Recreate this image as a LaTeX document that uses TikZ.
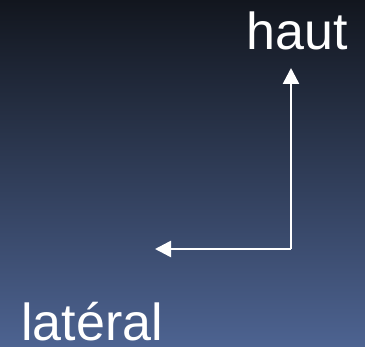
\documentclass[tikz,border=0pt]{standalone}
\usepackage{fontspec}
\setmainfont{Liberation Sans}
\usetikzlibrary{arrows.meta}
\definecolor{bgtop}{HTML}{12161E}
\definecolor{bgbottom}{HTML}{4D6391}

\begin{document}
\begin{tikzpicture}[x=1pt,y=-1pt]
    \shade[top color=bgtop,bottom color=bgbottom] (0,0) rectangle (365,347);
    \useasboundingbox (0,0) rectangle (365,347);
    \node[white,inner sep=0pt,font=\fontsize{52}{60}\selectfont,anchor=base east] (haut) at (348,50) {haut};
    \node[white,inner sep=0pt,font=\fontsize{52}{60}\selectfont,anchor=base west] (lateral) at (21,341) {latéral};
    \coordinate (O) at (291,249);
    \coordinate (H) at (291,68);
    \coordinate (L) at (155,249);
    \draw[white,line width=2.5pt,-{Triangle[length=16pt,width=16pt]}] (O) -- (H);
    \draw[white,line width=2.5pt,-{Triangle[length=16pt,width=16pt]}] (O) -- (L);
  \end{tikzpicture}
\end{document}
